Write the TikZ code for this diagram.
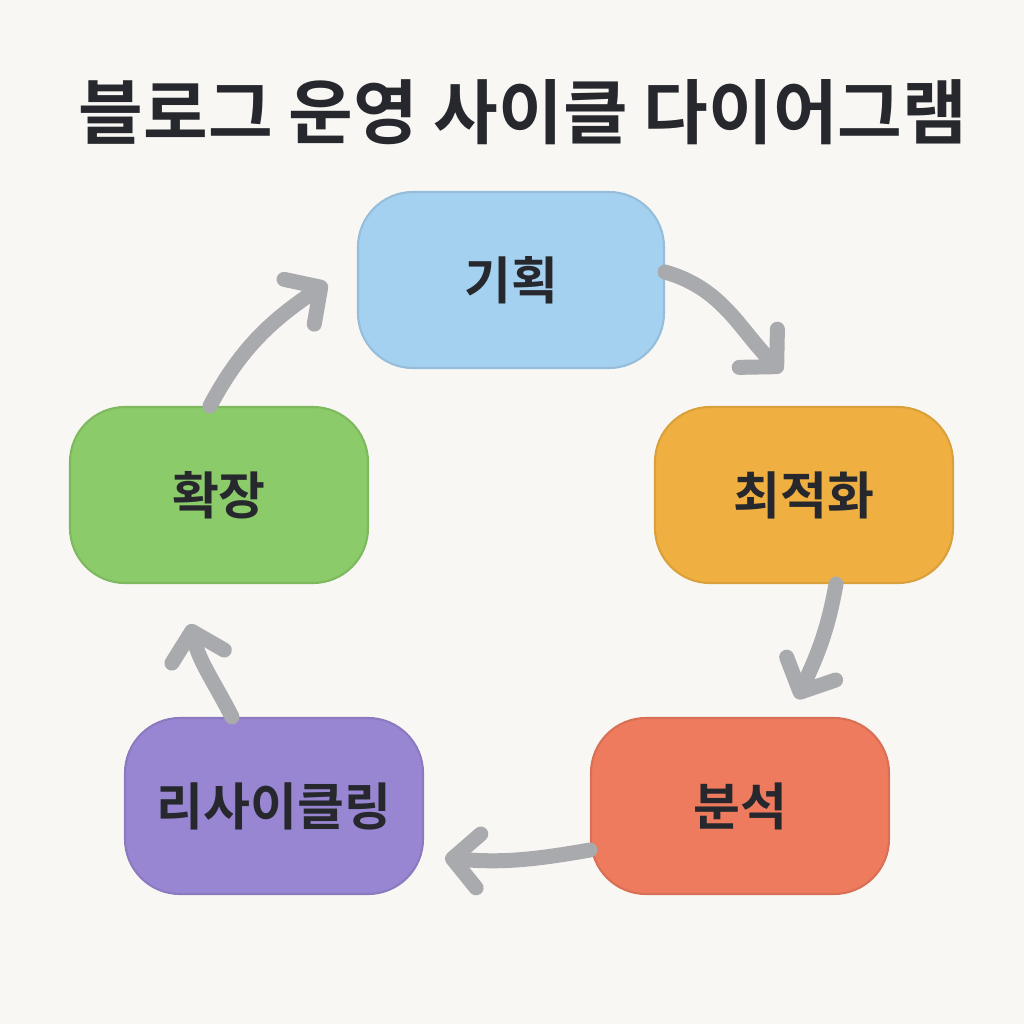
\documentclass[tikz,border=0pt]{standalone}
\usepackage{fontspec}
\setmainfont{Noto Sans CJK KR}[BoldFont={Noto Sans CJK KR Bold}]
\usepackage{tikz}
\usetikzlibrary{arrows.meta,backgrounds,positioning}
\definecolor{paper}{HTML}{F8F7F4}
\definecolor{ink}{HTML}{26282D}
\definecolor{arrowgray}{HTML}{A9AAAD}
\definecolor{planfill}{HTML}{A5D1F1}
\definecolor{optimfill}{HTML}{F0B041}
\definecolor{analysisfill}{HTML}{EE7B5E}
\definecolor{recycfill}{HTML}{9986D3}
\definecolor{growfill}{HTML}{8BCB6A}

\begin{document}
\begin{tikzpicture}[
  stage/.style={draw=#1fill!85!black!60!#1fill, fill=#1fill, line width=0.6pt,
    rounded corners=0.55cm, minimum width=2.98cm, minimum height=1.76cm,
    text=ink, font=\bfseries\fontsize{14.5}{16}\selectfont},
  cycle/.style={draw=arrowgray, line width=0.15cm, line cap=round,
    -{Straight Barb[length=2.6mm,width=5.4mm,round]}}]
\fill[paper] (0,0) rectangle (10.24,-10.24);
\useasboundingbox (0,0) rectangle (10.24,-10.24);
% title
\node[text=ink, font=\bfseries\fontsize{20}{24}\selectfont] (title) at (5.23,-1.12) {블로그 운영 사이클 다이어그램};
% stages
\node[stage=plan, minimum width=3.06cm] (plan) at (5.11,-2.80) {기획};
\node[stage=optim] (optim) at (8.04,-4.95) {최적화};
\node[stage=analysis] (analysis) at (7.40,-8.06) {분석};
\node[stage=recyc] (recyc) at (2.74,-8.06) {리사이클링};
\node[stage=grow] (grow) at (2.19,-4.95) {확장};
% arrows
\draw[cycle] ([yshift=0.08cm]plan.east) to[out=-16,in=135] ([shift={(-0.22,0.34)}]optim.north);
\draw[cycle] ([xshift=0.32cm]optim.south) to[out=-100,in=65] ([shift={(0.57,0.18)}]analysis.north);
\draw[cycle] ([yshift=-0.44cm]analysis.west) to[out=-170,in=-5] ([shift={(0.21,-0.52)}]recyc.east);
\draw[cycle] ([xshift=-0.42cm]recyc.north) to[out=117,in=-76] ([shift={(-0.29,-0.40)}]grow.south);
\draw[cycle] ([xshift=-0.09cm]grow.north) to[out=62,in=-146] ([shift={(-0.30,-0.03)}]plan.west);
\end{tikzpicture}
\end{document}
